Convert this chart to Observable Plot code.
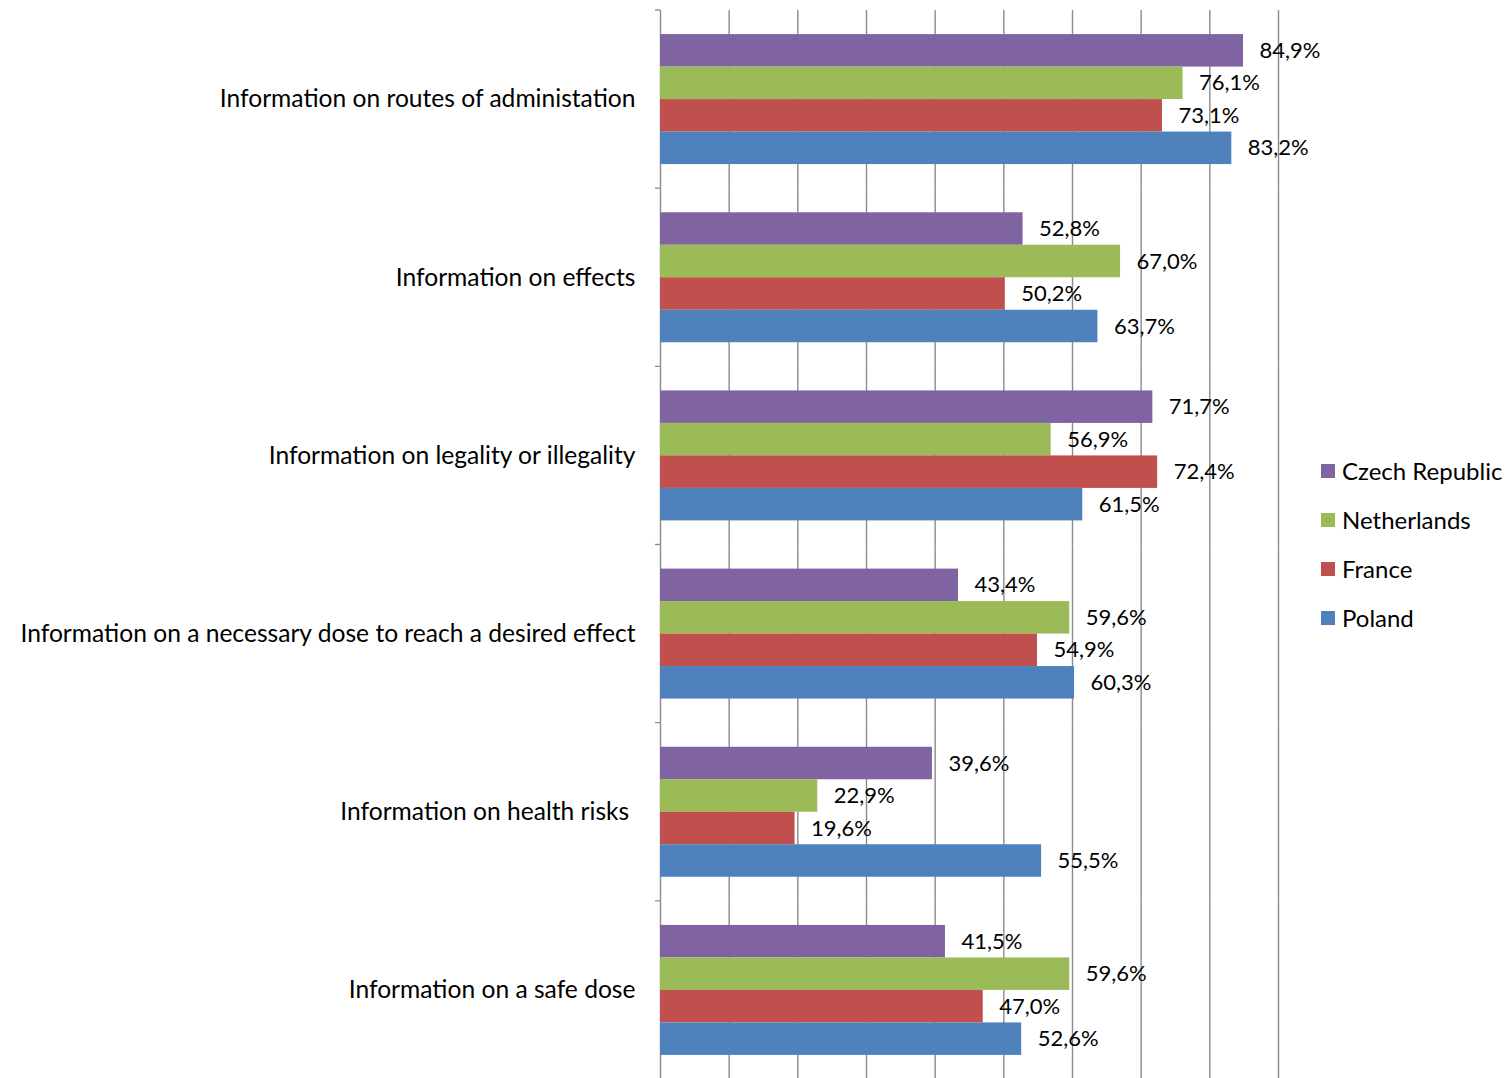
<!DOCTYPE html>
<html><head><meta charset="utf-8">
<script src="https://cdn.jsdelivr.net/npm/d3@7"></script>
<script src="https://cdn.jsdelivr.net/npm/@observablehq/plot@0.6"></script>
<style>
html,body{margin:0;padding:0;background:#fff;overflow:hidden}
#wrap{position:relative;width:1508px;height:1078px;overflow:hidden}
#legend{position:absolute;left:1321px;top:446px;font-family:Lato,sans-serif;font-size:24px;color:#000}
.row{height:49px;display:flex;align-items:center;white-space:nowrap}
.sw{width:14px;height:14px;margin-right:7px;flex:none}
</style></head><body><div id="wrap"><div id="chart"></div><div id="legend"></div></div>
<script>
const categories = [
  "Information on routes of administation",
  "Information on effects",
  "Information on legality or illegality",
  "Information on a necessary dose to reach a desired effect",
  "Information on health risks\u00a0",
  "Information on a safe dose"
];
const countries = ["Czech Republic", "Netherlands", "France", "Poland"];
const czech       = [84.9, 52.8, 71.7, 43.4, 39.6, 41.5];
const netherlands = [76.1, 67.0, 56.9, 59.6, 22.9, 59.6];
const france      = [73.1, 50.2, 72.4, 54.9, 19.6, 47.0];
const poland      = [83.2, 63.7, 61.5, 60.3, 55.5, 52.6];
const colors = ["#8064A2", "#9BBB59", "#C0504D", "#4F81BD"];
const gridTicks = [10, 20, 30, 40, 50, 60, 70, 80, 90];

const series = [czech, netherlands, france, poland];
const data = categories.flatMap((c, i) => countries.map((k, j) => ({category: c, country: k, value: series[j][i]})));
const fmt = d => d.value.toFixed(1).replace(".", ",") + "%";
const gridColor = "#8a8a8a";
const font = "Lato, sans-serif";

const chart = Plot.plot({
  width: 1508, height: 1079,
  marginLeft: 660, marginRight: 230, marginTop: 10, marginBottom: 0,
  style: {background: "#fff"},
  x: {domain: [0, 90], axis: null},
  y: {domain: countries, paddingInner: 0, paddingOuter: 0.7415, round: false, axis: null},
  fy: {domain: categories, padding: 0, round: false, axis: null},
  color: {domain: countries, range: colors},
  marks: [
    Plot.ruleX(gridTicks, {stroke: gridColor, strokeWidth: 1.4}),
    Plot.ruleX([0], {stroke: gridColor, strokeWidth: 1.4}),
    Plot.barX(categories, {fy: d => d, x1: 0, x2: 0, insetLeft: -5, fill: "none", stroke: gridColor, strokeWidth: 1.4, strokeDasharray: "5,2000"}),
    Plot.barX(data, {fy: "category", y: "country", x: "value", fill: "country"}),
    Plot.text(data, {fy: "category", y: "country", x: "value", text: fmt, dx: 16, textAnchor: "start", fontSize: 22, fontFamily: font, fill: "#000"}),
    Plot.text(categories, {fy: d => d, text: d => d, frameAnchor: "left", dx: -25, textAnchor: "end", fontSize: 24.6, fontFamily: font, fill: "#000"})
  ]
});
document.getElementById("chart").appendChild(chart);

const legend = document.getElementById("legend");
countries.forEach((c, i) => {
  const row = document.createElement("div");
  row.className = "row";
  const sw = document.createElement("div");
  sw.className = "sw";
  sw.style.background = colors[i];
  const t = document.createElement("span");
  t.textContent = c;
  row.appendChild(sw); row.appendChild(t);
  legend.appendChild(row);
});
</script></body></html>
